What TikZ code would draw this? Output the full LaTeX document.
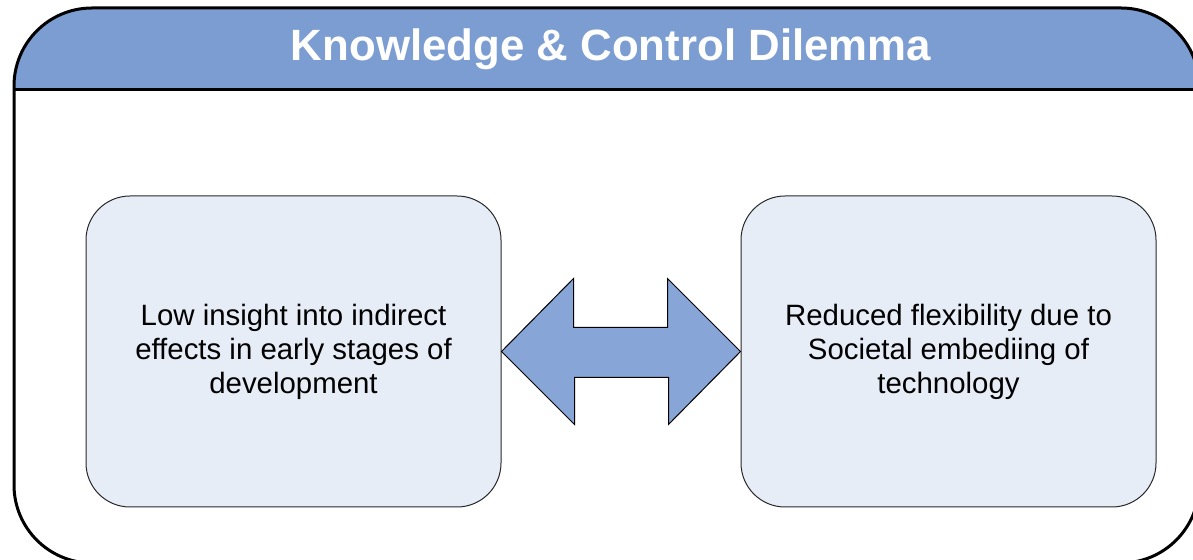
\documentclass[tikz,border=0pt]{standalone}
\usepackage{fontspec}
\setmainfont{Liberation Sans}
\usetikzlibrary{calc}
\definecolor{bandblue}{RGB}{124,157,210}
\definecolor{arrowblue}{RGB}{136,165,215}
\definecolor{boxfill}{RGB}{230,237,247}
\definecolor{boxedge}{RGB}{40,40,40}
\tikzset{
  frame/.style={draw=black, line width=1.5pt, rounded corners=39pt},
  stagebox/.style={draw=boxedge, line width=0.5pt, fill=boxfill, rounded corners=22pt,
    minimum width=207.5pt, minimum height=155.5pt, align=center,
    font=\fontsize{14.7}{17}\selectfont, inner sep=0pt},
  titletext/.style={text=white, font=\fontsize{21.9}{26}\selectfont\bfseries},
  linkarrow/.style={draw=black, line width=0.5pt, fill=arrowblue, line join=miter}
}
\begin{document}
\begin{tikzpicture}[x=0.5pt, y=-0.5pt]
  \useasboundingbox (0,0) rectangle (1193,560);
  \begin{scope}
    \clip (0,0) rectangle (1193,560);
    % header band inside the rounded frame
    \begin{scope}
      \clip[rounded corners=39pt] (14,8) rectangle (1199,563);
      \fill[bandblue] (0,0) rectangle (1200,90);
    \end{scope}
    \coordinate (bandL) at (14,90);
    \coordinate (bandR) at (1199,90);
    \draw[line width=1.5pt] (bandL) -- (bandR);
    \draw[frame] (14,8) rectangle (1199,563);
  \end{scope}
  \node[titletext] (title) at (611,49) {Knowledge \& Control Dilemma};

  % the two stages
  \node[stagebox] (L) at (293.5,351.5) {Low insight into indirect\\effects in early stages of\\development};
  \node[stagebox] (R) at (948.5,351.5) {Reduced flexibility due to\\Societal embediing of\\technology};

  % two-headed block arrow linking the stages
  \draw[linkarrow] (L.east) -- ++(72,-73) -- ++(0,49) -- ++(94,0) -- ++(0,-49)
    -- (R.west) -- ++(-72,73) -- ++(0,-47) -- ++(-94,0) -- ++(0,47) -- cycle;
\end{tikzpicture}
\end{document}
